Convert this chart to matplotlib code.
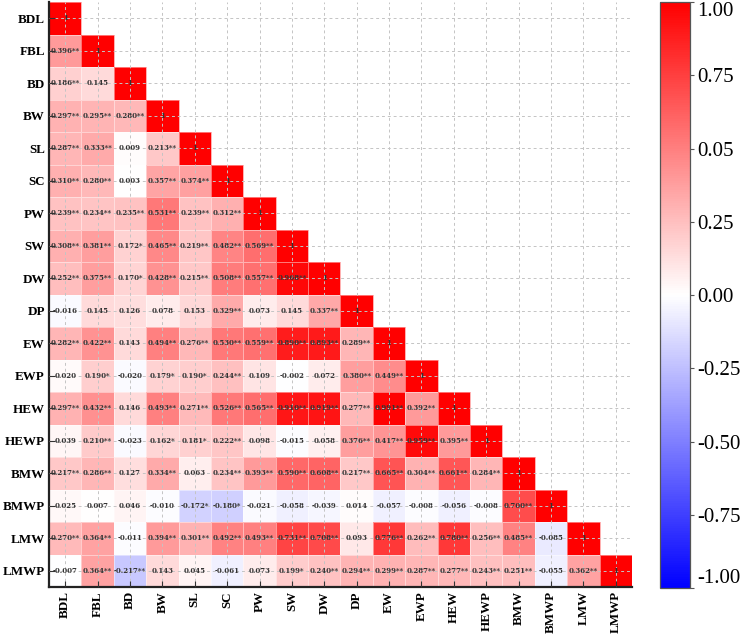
import numpy as np
import matplotlib
matplotlib.use("Agg")
import matplotlib.pyplot as plt

labels = ["BDL", "FBL", "BD", "BW", "SL", "SC", "PW", "SW", "DW", "DP",
          "EW", "EWP", "HEW", "HEWP", "BMW", "BMWP", "LMW", "LMWP"]

# lower-triangle annotations (row by row, excluding diagonal)
lower = [
    [],
    ["0.396**"],
    ["0.186**", "0.145"],
    ["0.297**", "0.295**", "0.280**"],
    ["0.287**", "0.333**", "0.009", "0.213**"],
    ["0.310**", "0.280**", "0.003", "0.357**", "0.374**"],
    ["0.239**", "0.234**", "0.235**", "0.531**", "0.239**", "0.312**"],
    ["0.308**", "0.381**", "0.172*", "0.465**", "0.219**", "0.482**", "0.569**"],
    ["0.252**", "0.375**", "0.170*", "0.428**", "0.215**", "0.508**", "0.557**", "0.968**"],
    ["-0.016", "0.145", "0.126", "0.078", "0.153", "0.329**", "0.073", "0.145", "0.337**"],
    ["0.282**", "0.422**", "0.143", "0.494**", "0.276**", "0.530**", "0.559**", "0.890**", "0.893**", "0.289**"],
    ["0.020", "0.190*", "-0.020", "0.179*", "0.190*", "0.244**", "0.109", "-0.002", "0.072", "0.380**", "0.449**"],
    ["0.297**", "0.432**", "0.146", "0.493**", "0.271**", "0.526**", "0.565**", "0.910**", "0.919**", "0.277**", "0.991**", "0.392**"],
    ["0.039", "0.210**", "-0.023", "0.162*", "0.181*", "0.222**", "0.098", "-0.015", "0.058", "0.376**", "0.417**", "0.959**", "0.395**"],
    ["0.217**", "0.286**", "0.127", "0.334**", "0.063", "0.234**", "0.393**", "0.590**", "0.608**", "0.217**", "0.665**", "0.304**", "0.661**", "0.284**"],
    ["0.025", "0.007", "0.046", "-0.010", "-0.172*", "-0.180*", "-0.021", "-0.058", "-0.039", "0.014", "-0.057", "-0.008", "-0.056", "-0.008", "0.700**"],
    ["0.270**", "0.364**", "-0.011", "0.394**", "0.301**", "0.492**", "0.493**", "0.731**", "0.708**", "0.093", "0.776**", "0.262**", "0.780**", "0.256**", "0.485**", "-0.085"],
    ["-0.007", "0.364**", "-0.217**", "0.143", "0.045", "-0.061", "0.073", "0.199*", "0.240**", "0.294**", "0.299**", "0.287**", "0.277**", "0.243**", "0.251**", "-0.055", "0.362**"],
]

cbar_ticks = [1.0, 0.75, 0.5, 0.25, 0.0, -0.25, -0.5, -0.75, -1.0]
cbar_ticklabels = ["1.00", "0.75", "0.05", "0.25", "0.00", "-0.25", "-0.50", "-0.75", "-1.00"]

n = len(labels)
M = np.full((n, n), np.nan)
for i in range(n):
    for j, s in enumerate(lower[i]):
        M[i, j] = float(s.replace("*", ""))
    M[i, i] = 1.0
Mm = np.ma.masked_invalid(M)

serif = ["Liberation Serif", "DejaVu Serif"]
fig = plt.figure(figsize=(7.44, 6.37), dpi=100)
ax = fig.add_axes([49/744, 1 - 587/637, (632 - 49)/744, (587 - 2)/637])
mesh = ax.pcolormesh(np.arange(n + 1), np.arange(n + 1), Mm, cmap="bwr",
                     vmin=-1, vmax=1, edgecolor=(1, 1, 1, 0.45), linewidth=0.6)
ax.set_xlim(0, n)
ax.set_ylim(n, 0)
ax.set_aspect("auto")

for i in range(n):
    for j in range(i + 1):
        txt = "1" if i == j else lower[i][j]
        ax.text(j + 0.5, i + 0.5, txt, ha="center", va="center",
                fontsize=5.0, fontweight="bold", family="DejaVu Serif",
                color="#333333", zorder=5)

centers = np.arange(n) + 0.5
ax.set_xticks(centers)
ax.set_yticks(centers)
ax.set_xticklabels(labels, rotation=90, fontsize=9.4, fontweight="bold", family=serif)
ax.set_yticklabels(labels, fontsize=9.4, fontweight="bold", family=serif)
ax.tick_params(direction="in", length=4, width=0.8, color="#333333", pad=3)
ax.grid(True, linestyle=(0, (3, 3)), color="#c4c4c4", linewidth=0.7, zorder=3)
ax.set_axisbelow(False)
for side in ["top", "right"]:
    ax.spines[side].set_visible(False)
for side in ["left", "bottom"]:
    ax.spines[side].set_linewidth(1.6)
    ax.spines[side].set_color("#222222")

cax = fig.add_axes([660/744, 1 - 588/637, 30/744, (588 - 2)/637])
cb = fig.colorbar(mesh, cax=cax)
cb.set_ticks(cbar_ticks)
cb.set_ticklabels(cbar_ticklabels)
cb.outline.set_edgecolor("#555555")
cb.outline.set_linewidth(0.9)
cax.tick_params(labelsize=15, length=3, color="#555555", pad=2)
for t, v in zip(cax.get_yticklabels(), cbar_ticks):
    t.set_family(serif)
    if v == 1.0:
        t.set_va("top")
    elif v == -1.0:
        t.set_va("bottom")

fig.savefig("out.png", dpi=100)
